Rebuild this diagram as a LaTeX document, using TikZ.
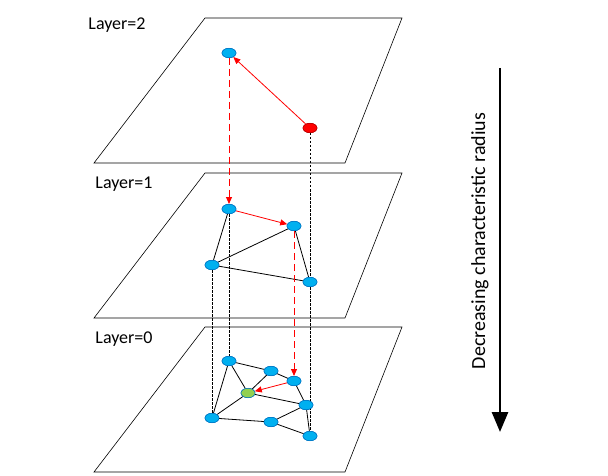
\documentclass[tikz,border=0pt]{standalone}
\usepackage{fontspec}
\setmainfont{Carlito}
\usetikzlibrary{arrows.meta,shapes.geometric}
\definecolor{nblue}{RGB}{0,176,240}
\definecolor{nedge}{RGB}{0,112,192}
\definecolor{ngreen}{RGB}{146,208,80}
\begin{document}
\begin{tikzpicture}[x=1pt,y=-1pt,
  nd/.style={ellipse,draw=nedge,fill=nblue,minimum width=14pt,minimum height=9.5pt,inner sep=0pt,line width=0.5pt},
  plane/.style={draw=black,line width=0.6pt},
  ed/.style={line width=0.8pt},
  rar/.style={draw=red,line width=0.8pt,-{Triangle[length=7pt,width=6pt]}},
  rda/.style={draw=red,line width=1pt,dash pattern=on 7pt off 4pt,-{Triangle[length=7pt,width=6pt]}},
  bda/.style={line width=0.5pt,dash pattern=on 2.5pt off 1.5pt},
  lab/.style={font=\fontsize{18}{21}\selectfont}]
\useasboundingbox (0,0) rectangle (608,476);
\foreach \y in {18,173,327}{
  \draw[plane] (205,\y) -- (402,\y) -- (345,\y+145) -- (94,\y+145) -- cycle;}
\node[lab] (l2) at (117,25) {Layer=2};
\node[lab] (l1) at (124,184) {Layer=1};
\node[lab] (l0) at (124,339) {Layer=0};
% layer 2
\node[nd] (p) at (229,53) {};
\node[nd,fill=red,draw=red!70!black] (q) at (310,128) {};
% layer 1
\node[nd] (a) at (229,209) {};
\node[nd] (b) at (294,226) {};
\node[nd] (c) at (212,265) {};
\node[nd] (d) at (310,282) {};
% layer 0
\node[nd] (A) at (229,361) {};
\node[nd] (B) at (271,371) {};
\node[nd] (C) at (294,381) {};
\node[nd,fill=ngreen] (G) at (248,393) {};
\node[nd] (D) at (306,405) {};
\node[nd] (E) at (212,418) {};
\node[nd] (F) at (271,422) {};
\node[nd] (H) at (310,436) {};
% dashed verticals
\draw[bda] (q) -- (d);
\draw[bda] (d) -- (H);
\draw[bda] (a) -- (A);
\draw[bda] (c) -- (E);
% edges
\draw[ed] (a)--(c) (c)--(b) (c)--(d) (b)--(d);
\draw[ed] (A)--(B) (B)--(C) (A)--(G) (B)--(G) (A)--(E) (G)--(E) (G)--(D) (C)--(D) (E)--(F) (F)--(D) (F)--(H) (D)--(H);
% red
\draw[rar] (q) -- (p);
\draw[rar] (a) -- (b);
\draw[rar] (C) -- (G);
\draw[rda] (p) -- (a);
\draw[rda] (b) -- (C);
% redraw nodes on top
\foreach \n in {p,a,b,c,d,A,B,C,D,E,F,H}{\node[nd] at (\n) {};}
\node[nd,fill=red,draw=red!70!black] at (q) {};
\node[nd,fill=ngreen] at (G) {};
% side arrow
\coordinate (s1) at (500,68);
\coordinate (s2) at (500,432);
\draw[line width=2.8pt,-{Triangle[length=20pt,width=16pt]}] (s1) -- (s2);
\node[font=\fontsize{20}{24}\selectfont,rotate=90] (t) at (480,241) {Decreasing characteristic radius};
\end{tikzpicture}
\end{document}
